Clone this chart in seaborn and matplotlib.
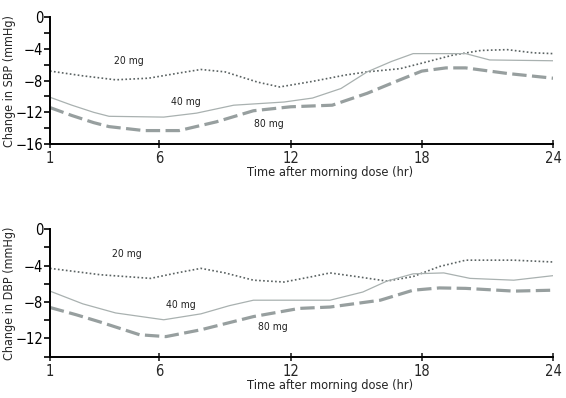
import pandas as pd
import matplotlib
matplotlib.use("Agg")
import matplotlib.pyplot as plt
import seaborn as sns

sns.set_style("ticks")
plt.rcParams["font.family"] = ["DejaVu Sans"]
plt.rcParams["font.stretch"] = "condensed"

# SBP (top panel) readings
sbp_20_hr = [1, 2.5, 4, 5.5, 7, 7.9, 9, 10.5, 11.5, 13, 14.5, 15.5, 17, 18, 19.4, 20.7, 21.9, 23.1, 24]
sbp_20 = [-6.8, -7.4, -7.9, -7.7, -7.0, -6.6, -6.9, -8.2, -8.8, -8.1, -7.3, -6.9, -6.5, -5.8, -4.8, -4.2, -4.1, -4.5, -4.6]
sbp_40_hr = [1, 2, 3, 3.7, 6.2, 7.7, 9.4, 11.7, 13, 14.3, 15.5, 16.6, 17.6, 20, 21.1, 24]
sbp_40 = [-10.1, -11.1, -12.0, -12.5, -12.6, -12.1, -11.1, -10.7, -10.2, -9.0, -6.9, -5.6, -4.6, -4.6, -5.4, -5.5]
sbp_80_hr = [1, 2, 3, 3.7, 5.3, 6.9, 8.6, 10.3, 12, 13.9, 15.5, 17, 18, 19.1, 20, 21.9, 24]
sbp_80 = [-11.4, -12.4, -13.3, -13.8, -14.3, -14.3, -13.2, -11.8, -11.3, -11.1, -9.6, -7.9, -6.8, -6.4, -6.4, -7.1, -7.7]

# DBP (bottom panel) readings
dbp_20_hr = [1, 3.3, 5.6, 6.8, 7.9, 9, 10.3, 11.7, 13, 13.8, 15, 16.4, 17.6, 18.8, 20, 22.2, 24]
dbp_20 = [-4.3, -5.0, -5.4, -4.8, -4.3, -4.8, -5.6, -5.8, -5.2, -4.8, -5.2, -5.7, -5.2, -4.1, -3.4, -3.4, -3.6]
dbp_40_hr = [1, 2.5, 4, 6.2, 7.9, 9.2, 10.3, 13.8, 15.3, 16.4, 17.6, 19, 20.2, 22.2, 24]
dbp_40 = [-6.8, -8.2, -9.2, -9.95, -9.3, -8.4, -7.8, -7.8, -6.9, -5.7, -4.9, -4.8, -5.4, -5.6, -5.1]
dbp_80_hr = [1, 2.2, 3.3, 5.1, 6.3, 7.9, 10.3, 12.4, 13.8, 16.1, 17.6, 18.8, 20, 22.2, 24]
dbp_80 = [-8.6, -9.4, -10.2, -11.6, -11.8, -11.05, -9.6, -8.7, -8.55, -7.8, -6.7, -6.45, -6.5, -6.8, -6.7]

x_ticks = [1, 6, 12, 18, 24]
dose_labels = ["20 mg", "40 mg", "80 mg"]

styles = {
    "20 mg": dict(color="#5a6262", lw=1.2, dashes=(1, 1.4)),
    "40 mg": dict(color="#a9b1b0", lw=0.9, dashes=()),
    "80 mg": dict(color="#979f9f", lw=2.3, dashes=(4.5, 1.7)),
}

fig = plt.figure(figsize=(5.66, 3.98), dpi=100)
ax1 = fig.add_axes([0.0883, 0.638, 0.889, 0.319])
ax2 = fig.add_axes([0.0883, 0.104, 0.889, 0.320])


def draw(ax, series, ylabel, ymin, label_pos):
    for dose, (hrs, vals) in zip(dose_labels, series):
        st = styles[dose]
        d = pd.DataFrame({"hr": hrs, "change": vals})
        sns.lineplot(data=d, x="hr", y="change", ax=ax, color=st["color"],
                     linewidth=st["lw"], dashes=False)
        line = ax.lines[-1]
        line.set_solid_joinstyle("round")
        line.set_dash_joinstyle("round")
        if st["dashes"]:
            line.set_dashes(st["dashes"])
        ax.text(label_pos[dose][0], label_pos[dose][1], dose, fontsize=7.5,
                ha="center", va="center", color="#222222")

    ax.set_xlim(1, 24)
    ax.set_ylim(ymin, 0)
    ax.set_xticks(x_ticks)
    ax.set_yticks(list(range(0, ymin - 1, -4)))
    ax.set_yticks(list(range(0, ymin - 1, -2)), minor=True)
    ax.tick_params(axis="y", which="both", direction="out", length=4, width=1.2,
                   labelsize=10.5, pad=1, colors="black")
    ax.tick_params(axis="x", direction="inout", length=6, width=1.2,
                   labelsize=10.5, pad=2)
    sns.despine(ax=ax)
    for s in ["left", "bottom"]:
        ax.spines[s].set_linewidth(1.4)
        ax.spines[s].set_color("black")
    ax.set_xlabel("Time after morning dose (hr)", fontsize=9.2)
    ax.xaxis.set_label_coords(0.557, -0.175)
    ax.set_ylabel(ylabel, fontsize=9)
    ax.yaxis.set_label_coords(-0.067, 0.5)


draw(ax1,
     [(sbp_20_hr, sbp_20), (sbp_40_hr, sbp_40), (sbp_80_hr, sbp_80)],
     "Change in SBP (mmHg)", -16,
     {"20 mg": (4.6, -5.55), "40 mg": (7.2, -10.65), "80 mg": (11.0, -13.5)})
draw(ax2,
     [(dbp_20_hr, dbp_20), (dbp_40_hr, dbp_40), (dbp_80_hr, dbp_80)],
     "Change in DBP (mmHg)", -14,
     {"20 mg": (4.5, -2.75), "40 mg": (7.0, -8.35), "80 mg": (11.2, -10.7)})

plt.savefig("out.png", dpi=100)
